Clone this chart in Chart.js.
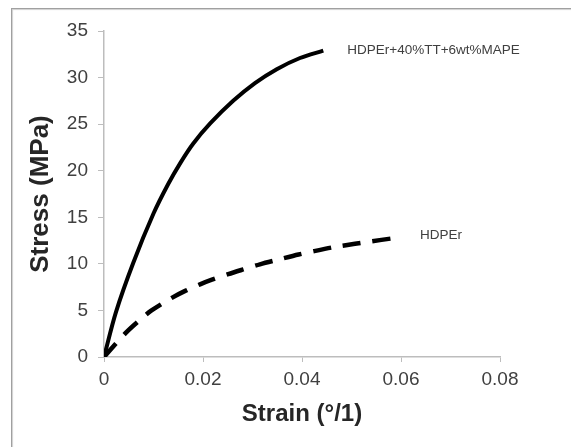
<!DOCTYPE html>
<html lang="en">
<head>
    <meta charset="UTF-8">
    <title>Stress vs Strain</title>
    <script src="https://cdn.jsdelivr.net/npm/chart.js"></script>
    <style>
        html, body {
            margin: 0;
            padding: 0;
            overflow: hidden;
            background: #fff;
        }
        #frame {
            position: absolute;
            left: 11px;
            top: 8px;
            width: 600px;
            height: 500px;
            border: 1px solid #a0a0a0;
            box-shadow: 1px 1px 1px #d0d0d0 inset;
        }
        #chartContainer {
            position: absolute;
            left: 0;
            top: 0;
            width: 571px;
            height: 447px;
        }
    </style>
</head>
<body>
    <div id="frame"></div>
    <div id="chartContainer">
        <canvas id="stressChart" width="571" height="447"></canvas>
    </div>

    <script>
// HDPEr + 40%TT + 6wt%MAPE (solid)
const compStrain = [0, 0.0024, 0.0059, 0.0100, 0.013, 0.0155, 0.018, 0.0215, 0.0261, 0.0305, 0.0349, 0.0396, 0.0443];
const compStress = [0, 4.8, 10.1, 15.4, 18.6, 20.9, 22.9, 25.1, 27.5, 29.4, 30.9, 32.1, 32.9];

// HDPEr (dashed)
const hdpeStrain = [0, 0.0046, 0.0073, 0.0096, 0.0137, 0.0164, 0.0194, 0.0218, 0.0251, 0.0281, 0.0315, 0.0359, 0.0393, 0.0423, 0.047, 0.0507, 0.0537, 0.0584];
const hdpeStress = [0, 2.7, 4.0, 5.0, 6.35, 7.1, 7.8, 8.3, 8.9, 9.4, 9.95, 10.55, 11.0, 11.35, 11.85, 12.15, 12.4, 12.75];

const seriesNames = ['HDPEr+40%TT+6wt%MAPE', 'HDPEr'];
// where each series name sits, in data units
const nameStrain = [0.0443, 0.059];
const nameStress = [32.95, 13.1];

const xTicks = [0, 0.02, 0.04, 0.06, 0.08];

function toPoints(xs, ys) {
    return xs.map((x, i) => ({ x: x, y: ys[i] }));
}

const seriesLabels = {
    id: 'seriesLabels',
    afterDatasetsDraw(chart) {
        const ctx = chart.ctx;
        const xs = chart.scales.x, ys = chart.scales.y;
        ctx.save();
        ctx.font = '13.5px "Liberation Sans", Arial, sans-serif';
        ctx.fillStyle = '#404040';
        ctx.textBaseline = 'middle';
        seriesNames.forEach((name, i) => {
            ctx.fillText(name, xs.getPixelForValue(nameStrain[i]) + 24, ys.getPixelForValue(nameStress[i]));
        });
        ctx.restore();
    }
};

const tickFont = { family: '"Liberation Sans", Arial, sans-serif', size: 19 };

new Chart(document.getElementById('stressChart'), {
    type: 'scatter',
    data: {
        datasets: [{
            label: seriesNames[0],
            data: toPoints(compStrain, compStress),
            showLine: true,
            borderColor: '#000',
            borderWidth: 4,
            pointRadius: 0,
            tension: 0.3
        }, {
            label: seriesNames[1],
            data: toPoints(hdpeStrain, hdpeStress),
            showLine: true,
            borderColor: '#000',
            borderWidth: 4.5,
            borderDash: [18, 12],
            pointRadius: 0,
            tension: 0.3
        }]
    },
    options: {
        responsive: false,
        animation: false,
        layout: { padding: { left: 0, right: 71, top: 31, bottom: 0 } },
        plugins: {
            legend: { display: false },
            tooltip: { enabled: false }
        },
        scales: {
            x: {
                type: 'linear',
                min: 0,
                max: 0.08,
                afterBuildTicks: (scale) => { scale.ticks = xTicks.map(v => ({ value: v })); },
                afterFit: (scale) => { scale.height = 90; },
                grid: { drawOnChartArea: false, drawTicks: true, tickLength: 5, tickColor: '#bdbdbd' },
                border: { color: '#bdbdbd', width: 1.5 },
                ticks: { font: tickFont, color: '#404040', padding: 6, maxRotation: 0,
                         callback: (v) => String(v) },
                title: { display: true, text: 'Strain (°/1)',
                         font: { family: '"Liberation Sans", Arial, sans-serif', size: 24, weight: 'bold' },
                         color: '#262626', padding: { top: 0, bottom: 18 } }
            },
            y: {
                min: 0,
                max: 35,
                afterFit: (scale) => { scale.width = 104; },
                grid: { drawOnChartArea: false, drawTicks: true, tickLength: 6, tickColor: '#bdbdbd' },
                border: { color: '#bdbdbd', width: 1.5 },
                ticks: { stepSize: 5, font: tickFont, color: '#404040', padding: 10 },
                title: { display: true, text: 'Stress (MPa)',
                         font: { family: '"Liberation Sans", Arial, sans-serif', size: 26, weight: 'bold' },
                         color: '#262626', padding: { top: 25, bottom: 0 } }
            }
        }
    },
    plugins: [seriesLabels]
});
    </script>
</body>
</html>
